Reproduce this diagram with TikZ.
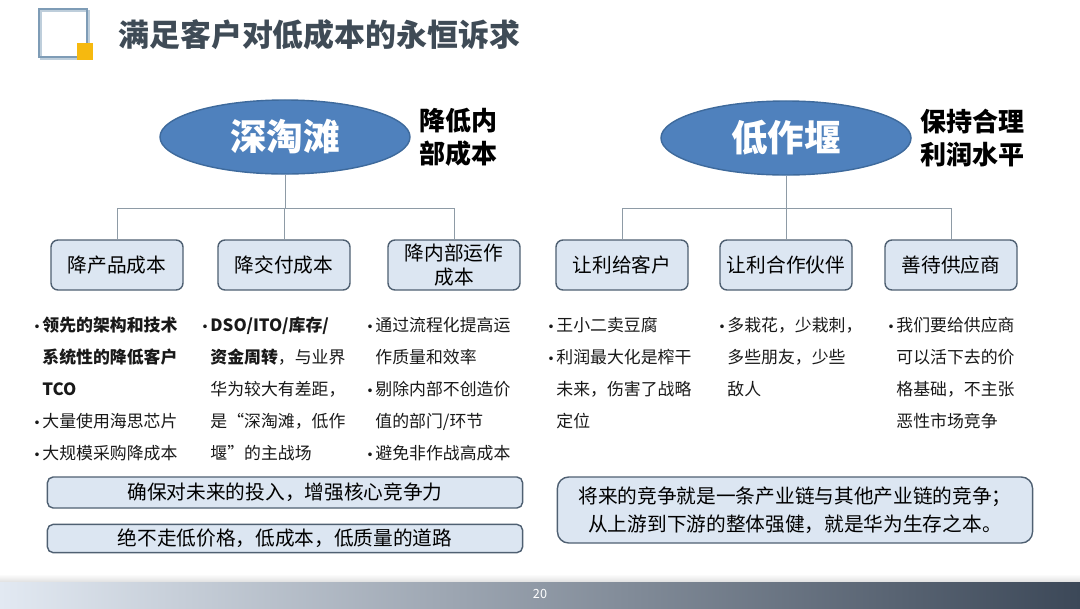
\documentclass[tikz,border=0pt]{standalone}
\usepackage{fontspec}
\setmainfont{Noto Sans CJK SC}
\newfontfamily\symfont{DejaVu Sans}
\usetikzlibrary{shapes.geometric, positioning, calc}
\definecolor{topicfill}{HTML}{4F81BD}
\definecolor{topicdraw}{HTML}{3E6A9C}
\definecolor{boxfill}{HTML}{DCE6F2}
\definecolor{boxdraw}{HTML}{4F6072}
\definecolor{treegray}{HTML}{8E9BA6}
\definecolor{titlegray}{HTML}{3F4B56}
\definecolor{iconblue}{HTML}{7E9CB6}
\definecolor{iconyellow}{HTML}{F6B90F}
\definecolor{bandlight}{HTML}{E2E9F2}
\definecolor{bandmid}{HTML}{9DAFC3}
\definecolor{banddark}{HTML}{3C4858}
\newcommand{\bl}{\makebox[6.5pt][l]{\symfont\fontsize{9}{9}\selectfont •}}
\newcommand{\ind}{\hspace*{6.5pt}}
\tikzset{
    topic/.style={ellipse, draw=topicdraw, line width=1pt, fill=topicfill,
                  minimum width=6.25cm, minimum height=1.85cm, inner sep=0pt,
                  text=white, font=\fontsize{26}{28}\selectfont\bfseries},
    aim/.style={align=left, inner sep=0pt, font=\fontsize{18.5}{23.5}\selectfont\bfseries},
    branch/.style={rectangle, rounded corners=5pt, draw=boxdraw, line width=1pt,
                   fill=boxfill, minimum width=3.3cm, minimum height=1.25cm,
                   align=center, inner sep=2pt, font=\fontsize{14}{17.5}\selectfont},
    points/.style={anchor=north west, align=left, inner sep=0pt,
                   text=black!90, font=\fontsize{12}{22.7}\selectfont},
    notebox/.style={rectangle, rounded corners=4pt, draw=boxdraw, line width=1pt,
                    fill=boxfill, minimum width=11.875cm, align=center,
                    font=\fontsize{14}{20}\selectfont},
    tree/.style={draw=treegray, line width=0.7pt},
}

\begin{document}
\begin{tikzpicture}[x=0.025cm, y=-0.025cm]

    \useasboundingbox (0,0) rectangle (1080,608);

    % ── TITLE ──
    \draw[iconblue!50, line width=2pt] (41,11) rectangle (89,59);
    \draw[iconblue, line width=1.5pt] (39,9) rectangle (87,57);
    \fill[iconyellow] (77,43) rectangle (93,60);
    \node[anchor=west, inner sep=0pt, text=titlegray,
          font=\fontsize{22}{24}\selectfont\bfseries] (title) at (118,35)
        {满足客户对低成本的永恒诉求};

    % ── LEFT TREE ──
    \node[topic] (deep) at (285,137) {深淘滩};
    \node[aim, right=0.2cm of deep] (deepaim) {降低内\\部成本};
    \node[branch] (b1) at (117,265) {降产品成本};
    \node[branch] (b2) at (284,265) {降交付成本};
    \node[branch] (b3) at (454,265) {降内部运作\\成本};
    \coordinate (busL) at (285,208);
    \draw[tree] (deep.south) -- (busL);
    \foreach \b in {b1,b2,b3}
        \draw[tree] (\b.north) |- (busL);

    % ── RIGHT TREE ──
    \node[topic] (low) at (786,138) {低作堰};
    \node[aim, right=0.2cm of low] (lowaim) {保持合理\\利润水平};
    \node[branch] (b4) at (622,265) {让利给客户};
    \node[branch] (b5) at (786,265) {让利合作伙伴};
    \node[branch] (b6) at (951,265) {善待供应商};
    \coordinate (busR) at (786,208);
    \draw[tree] (low.south) -- (busR);
    \foreach \b in {b4,b5,b6}
        \draw[tree] (\b.north) |- (busR);

    % ── BULLET TEXTS ──
    \node[points] (p1) at (33,317) {\bl\textbf{领先的架构和技术}\\
        \ind\textbf{系统性的降低客户}\\
        \ind\textbf{TCO}\\
        \bl 大量使用海思芯片\\
        \bl 大规模采购降成本};
    \node[points] (p2) at (201,317) {\bl\textbf{DSO/ITO/库存/}\\
        \ind\textbf{资金周转}，与业界\\
        \ind 华为较大有差距，\\
        \ind 是“深淘滩，低作\\
        \ind 堰”的主战场};
    \node[points] (p3) at (366,317) {\bl 通过流程化提高运\\
        \ind 作质量和效率\\
        \bl 剔除内部不创造价\\
        \ind 值的部门/环节\\
        \bl 避免非作战高成本};
    \node[points] (p4) at (547,317) {\bl 王小二卖豆腐\\
        \bl 利润最大化是榨干\\
        \ind 未来，伤害了战略\\
        \ind 定位};
    \node[points] (p5) at (718,317) {\bl 多栽花，少栽刺，\\
        \ind 多些朋友，少些\\
        \ind 敌人};
    \node[points] (p6) at (887,317) {\bl 我们要给供应商\\
        \ind 可以活下去的价\\
        \ind 格基础，不主张\\
        \ind 恶性市场竞争};

    % ── NOTES ──
    \node[notebox, minimum height=0.775cm] (n1) at (285,492.5) {确保对未来的投入，增强核心竞争力};
    \node[notebox, minimum height=0.7cm] (n2) at (285,538.5) {绝不走低价格，低成本，低质量的道路};
    \node[notebox, minimum height=1.65cm, rounded corners=8pt] (n3) at (795,510)
        {将来的竞争就是一条产业链与其他产业链的竞争；\\从上游到下游的整体强健，就是华为生存之本。};

    % ── FOOTER ──
    \shade[top color=white, bottom color=black!12] (0,574) rectangle (1080,582);
    \shade[left color=bandlight, middle color=bandmid, right color=banddark] (0,582) rectangle (1080,608);
    \node[text=white, font=\fontsize{9}{10}\selectfont] (page) at (540,594) {20};

\end{tikzpicture}
\end{document}
